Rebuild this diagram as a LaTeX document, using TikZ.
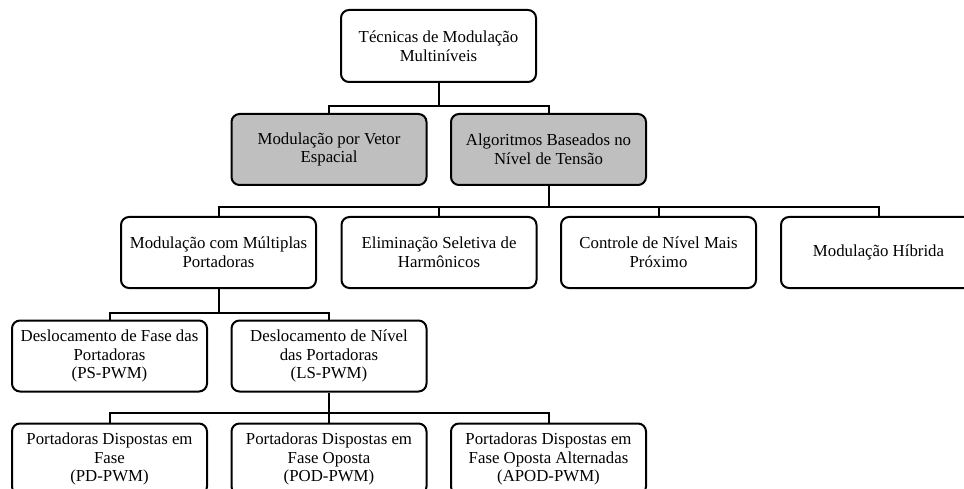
\documentclass[tikz,border=0pt]{standalone}
\usepackage{fontspec}
\setmainfont{Liberation Serif}
\definecolor{boxgray}{RGB}{191,191,191}
\tikzset{
  box/.style={draw=black, line width=2pt, rounded corners=8pt, fill=white,
    minimum width=195pt, minimum height=71pt, align=center, inner sep=2pt,
    font=\fontsize{16.8}{18.8}\selectfont},
  graybox/.style={box, fill=boxgray},
  link/.style={draw=black, line width=2pt}
}
\begin{document}
\begin{tikzpicture}[x=1pt, y=-1pt]
\clip (0,0) rectangle (964,489);
\fill[white] (0,0) rectangle (964,489);

% root
\node[box, minimum height=72pt] (root) at (438.5,46) {Técnicas de Modulação\\Multiníveis};

% second level
\node[graybox] (svm) at (329,149.5) {Modulação por Vetor\\Espacial};
\node[graybox] (alg) at (548.5,149.5) {Algoritmos Baseados no\\Nível de Tensão};

% third level
\node[box] (mult) at (218.5,252.5) {Modulação com Múltiplas\\Portadoras};
\node[box] (she)  at (439,252.5) {Eliminação Seletiva de\\Harmônicos};
\node[box] (nlc)  at (658.5,252.5) {Controle de Nível Mais\\Próximo};
\node[box] (hyb)  at (878.5,252.5) {Modulação Híbrida};

% fourth level
\node[box] (ps) at (109.5,356) {Deslocamento de Fase das\\Portadoras\\(PS-PWM)};
\node[box] (ls) at (329,356) {Deslocamento de Nível\\das Portadoras\\(LS-PWM)};

% fifth level
\node[box] (pd)   at (109.5,459) {Portadoras Dispostas em\\Fase\\(PD-PWM)};
\node[box] (pod)  at (329,459) {Portadoras Dispostas em\\Fase Oposta\\(POD-PWM)};
\node[box] (apod) at (548.5,459) {Portadoras Dispostas em\\Fase Oposta Alternadas\\(APOD-PWM)};

% bus junctions
\coordinate (j1) at (438.5,106);
\coordinate (j2) at (548.5,207);
\coordinate (j3) at (218.5,313);
\coordinate (j4) at (329,413);

% connectors
\draw[link] (root.south) -- (j1);
\draw[link] (svm.north) |- (j1) -| (alg.north);

\draw[link] (alg.south) -- (j2);
\draw[link] (mult.north) |- (j2) -| (hyb.north);
\draw[link] (she.north) -- (she.north |- j2);
\draw[link] (nlc.north) -- (nlc.north |- j2);

\draw[link] (mult.south) -- (j3);
\draw[link] (ps.north) |- (j3) -| (ls.north);

\draw[link] (ls.south) -- (j4);
\draw[link] (pd.north) |- (j4) -| (apod.north);
\draw[link] (pod.north) -- (pod.north |- j4);
\end{tikzpicture}
\end{document}
